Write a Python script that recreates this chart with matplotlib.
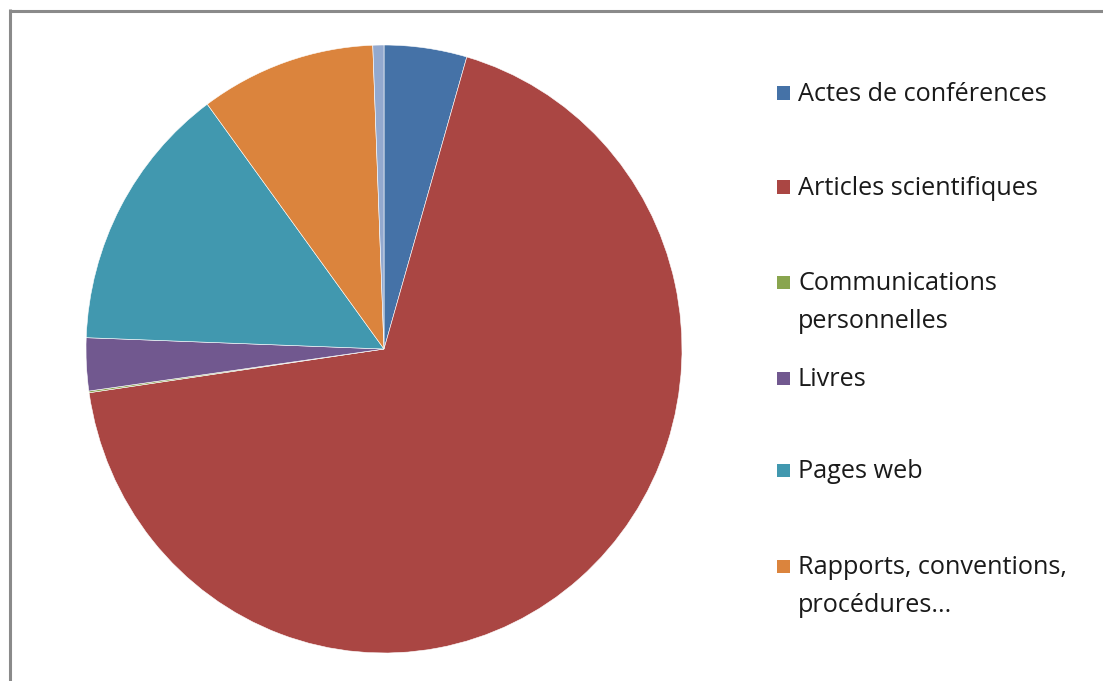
import matplotlib
matplotlib.use("Agg")
import matplotlib.pyplot as plt
from matplotlib.patches import Rectangle
from matplotlib.lines import Line2D

# Share of references by document type (%)
categories = [
    "Actes de conférences",
    "Articles scientifiques",
    "Communications\npersonnelles",
    "Livres",
    "Pages web",
    "Rapports, conventions,\nprocédures...",
    "Autres",
]
shares = [4.48, 68.2, 0.09, 2.8, 14.3, 9.5, 0.6]
colors = ["#4572A7", "#AA4643", "#89A54E", "#71588F", "#4198AF", "#DB843D", "#93A9CF"]
legend_count = 6  # entries visible in the legend column

W, H = 1103, 681
fig = plt.figure(figsize=(W / 100, H / 100), dpi=100)
fig.patch.set_facecolor("white")

# Pie area in pixels (left, top, right, bottom)
pl, pt, pr, pb = 86, 45, 682, 653
ax = fig.add_axes([pl / W, (H - pb) / H, (pr - pl) / W, (pb - pt) / H])
ax.pie(shares, colors=colors, startangle=90, counterclock=False,
       wedgeprops=dict(edgecolor="white", linewidth=0.4))
ax.set_aspect("auto")
ax.set_xlim(-1, 1)
ax.set_ylim(-1, 1)
ax.axis("off")

# Frame lines along the top and left edges
border = "#8a8a8a"
fig.add_artist(Line2D([9.5 / W, 9.5 / W], [0, (H - 9) / H], transform=fig.transFigure,
                      color=border, linewidth=2.2, solid_capstyle="butt"))
fig.add_artist(Line2D([8.5 / W, 1], [(H - 10.5) / H, (H - 10.5) / H], transform=fig.transFigure,
                      color=border, linewidth=2.2, solid_capstyle="butt"))

# Legend column: a swatch and one text line per label line
font = ["Open Sans", "DejaVu Sans"]
entry_y = [93, 187, 282, 378, 470, 566]
line_gap = 38
sq = 13
for i in range(legend_count):
    y = entry_y[i]
    fig.add_artist(Rectangle((777 / W, (H - y - sq / 2) / H), sq / W, sq / H,
                             transform=fig.transFigure, facecolor=colors[i],
                             edgecolor="none"))
    for k, line in enumerate(categories[i].split("\n")):
        fig.text(798 / W, (H - (y + 8 + k * line_gap)) / H, line, fontsize=18.2,
                 family=font, color="#1a1a1a", va="baseline", ha="left")

fig.savefig("out.png", dpi=100, facecolor="white")
